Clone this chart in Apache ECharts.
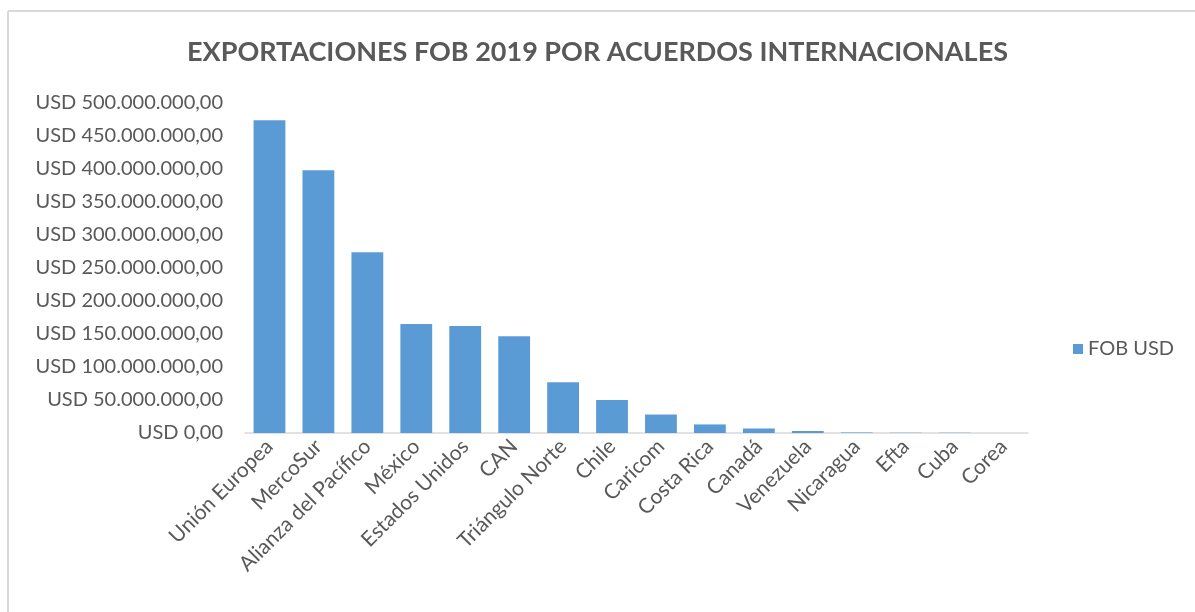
<!DOCTYPE html>
<html>
<head>
<meta charset="utf-8">
<script src="https://cdn.jsdelivr.net/npm/echarts@6/dist/echarts.min.js"></script>
<style>
html,body{margin:0;padding:0;background:#fff;}
#chart{width:1195px;height:612px;}
</style>
</head>
<body>
<div id="chart"></div>
<script>
const categories = ['Unión Europea','MercoSur','Alianza del Pacífico','México','Estados Unidos','CAN','Triángulo Norte','Chile','Caricom','Costa Rica','Canadá','Venezuela','Nicaragua','Efta','Cuba','Corea'];
const fobUsd = [474000000, 398000000, 274000000, 165000000, 162000000, 146500000, 77000000, 50000000, 28000000, 13000000, 7000000, 3000000, 600000, 300000, 200000, 100000];
const yTicks = [0, 50000000, 100000000, 150000000, 200000000, 250000000, 300000000, 350000000, 400000000, 450000000, 500000000];

function fmtUSD(v){
  const s = Math.round(v).toString().replace(/\B(?=(\d{3})+(?!\d))/g, '.');
  return 'USD ' + s + ',00';
}

const chart = echarts.init(document.getElementById('chart'));
chart.setOption({
  animation: false,
  textStyle: { fontFamily: 'Lato' },
  title: {
    text: 'EXPORTACIONES FOB 2019 POR ACUERDOS INTERNACIONALES',
    left: 'center', top: 34,
    textStyle: { fontFamily: 'Lato', fontSize: 27, fontWeight: 'bold', color: '#595959' }
  },
  legend: {
    data: ['FOB USD'],
    orient: 'vertical',
    left: 1068, top: 334,
    icon: 'rect', itemWidth: 10, itemHeight: 10, itemGap: 6,
    textStyle: { fontFamily: 'Lato', fontSize: 20, color: '#595959' }
  },
  grid: { left: 245, right: 167, top: 103, bottom: 179, containLabel: false },
  xAxis: {
    type: 'category',
    data: categories,
    axisLine: { lineStyle: { color: '#D9D9D9', width: 1.5 } },
    axisTick: { show: false },
    axisLabel: { rotate: 45, fontSize: 21, color: '#595959', margin: 10, interval: 0, fontFamily: 'Lato' }
  },
  yAxis: {
    type: 'value',
    min: yTicks[0], max: yTicks[yTicks.length - 1], interval: yTicks[1] - yTicks[0],
    splitLine: { show: false },
    axisLine: { show: false },
    axisTick: { show: false },
    axisLabel: { fontSize: 20, color: '#595959', margin: 22, fontFamily: 'Lato', formatter: fmtUSD }
  },
  series: [{
    name: 'FOB USD',
    type: 'bar',
    data: fobUsd,
    barCategoryGap: '35%',
    itemStyle: { color: '#5B9BD5' }
  }],
  graphic: [
    { type: 'line', shape: { x1: 8, y1: 11, x2: 1195, y2: 11 }, style: { stroke: '#D9D9D9', lineWidth: 2 } },
    { type: 'line', shape: { x1: 8, y1: 11, x2: 8, y2: 612 }, style: { stroke: '#D9D9D9', lineWidth: 2 } }
  ]
});
</script>
</body>
</html>
